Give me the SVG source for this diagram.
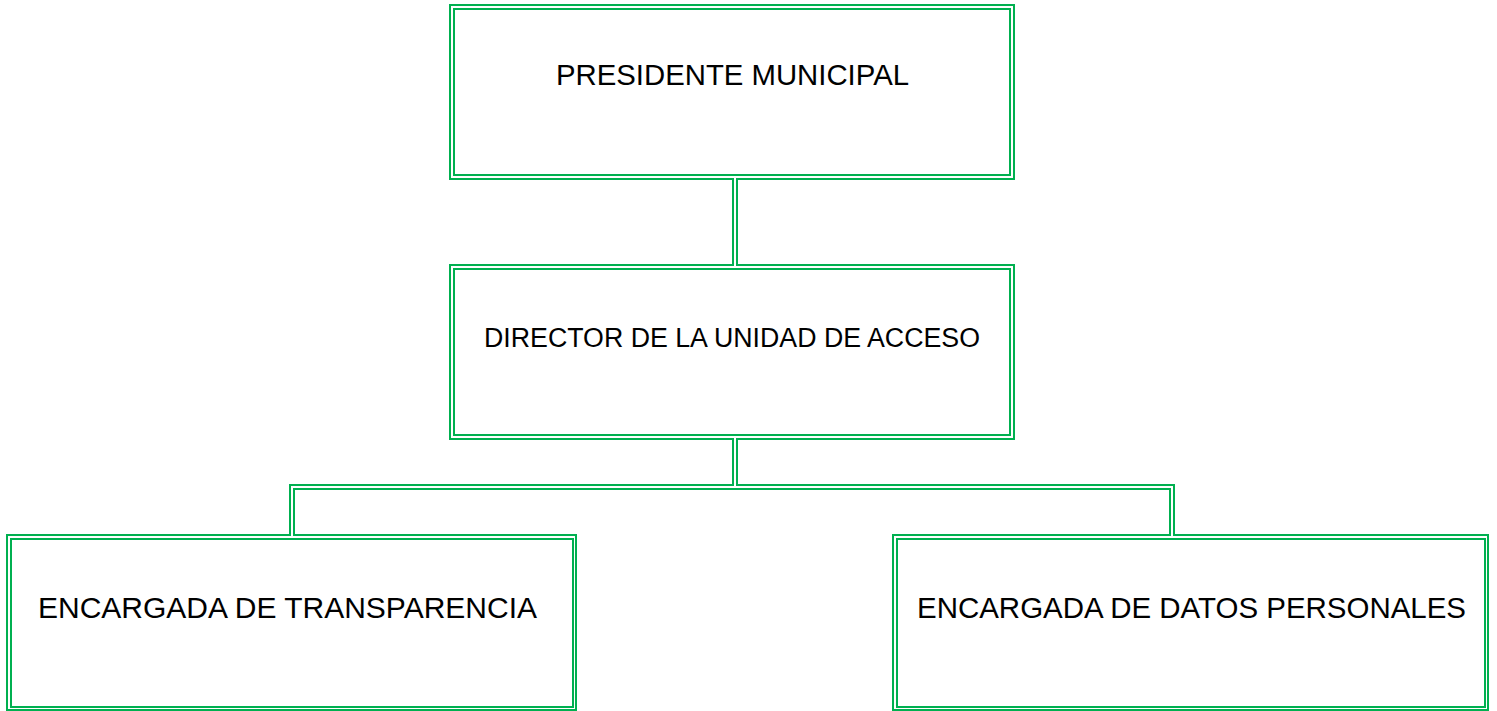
<svg xmlns="http://www.w3.org/2000/svg" width="1497" height="711" viewBox="0 0 1497 711">
<style>
.b{fill:none;stroke:#00B050;stroke-width:2}
.tg{fill:none;stroke:#00B050;stroke-width:6}
.tw{fill:none;stroke:#FFFFFF;stroke-width:2}
.t{font-family:"Liberation Sans",Arial,sans-serif;fill:#000000}
</style>
<rect width="1497" height="711" fill="#FFFFFF"/>
<g id="presidente">
<rect class="b" x="450" y="5" width="564" height="174"/>
<rect class="b" x="454" y="9" width="556" height="166"/>
<text class="t" x="556" y="85" font-size="29.4" textLength="353" lengthAdjust="spacingAndGlyphs">PRESIDENTE MUNICIPAL</text>
</g>
<g id="director">
<rect class="b" x="450" y="265" width="564" height="174"/>
<rect class="b" x="454" y="269" width="556" height="166"/>
<text class="t" x="484" y="347" font-size="26.8" textLength="496" lengthAdjust="spacingAndGlyphs">DIRECTOR DE LA UNIDAD DE ACCESO</text>
</g>
<g id="transparencia">
<rect class="b" x="7" y="535" width="569" height="175"/>
<rect class="b" x="11" y="539" width="562" height="168"/>
<text class="t" x="38" y="618" font-size="30" textLength="499" lengthAdjust="spacingAndGlyphs">ENCARGADA DE TRANSPARENCIA</text>
</g>
<g id="datos">
<rect class="b" x="893" y="535" width="595" height="175"/>
<rect class="b" x="897" y="539" width="588" height="168"/>
<text class="t" x="917" y="618" font-size="29.5" textLength="549" lengthAdjust="spacingAndGlyphs">ENCARGADA DE DATOS PERSONALES</text>
</g>
<g id="connectors">
<path class="tg" d="M735 178 V266"/>
<path class="tg" d="M735 438 V487"/>
<path class="tg" d="M292 536 V487 H1172 V536"/>
<path class="tw" d="M735 177 V267"/>
<path class="tw" d="M735 437 V487"/>
<path class="tw" d="M292 537 V487 H1172 V537"/>
</g>
</svg>
